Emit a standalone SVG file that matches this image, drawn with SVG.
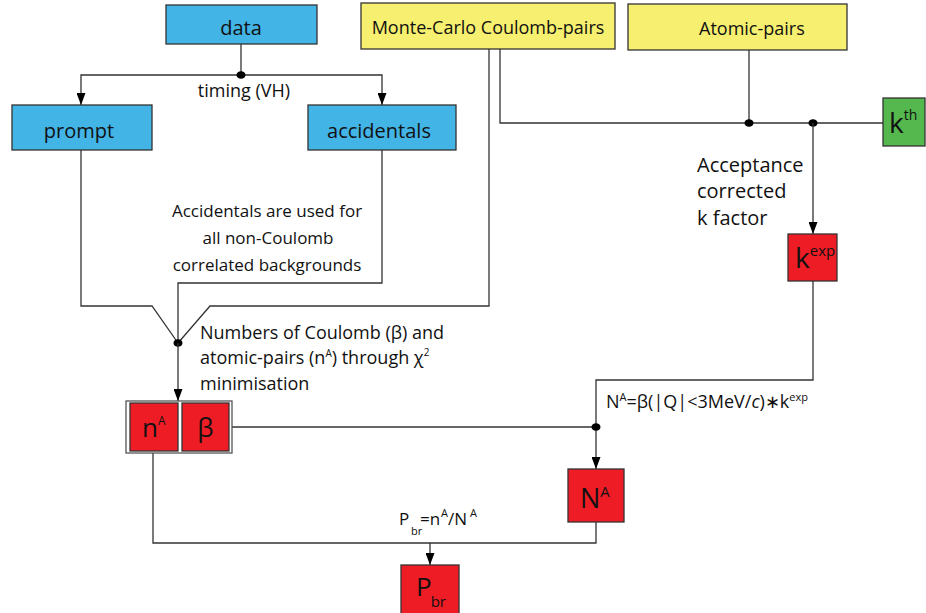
<svg xmlns="http://www.w3.org/2000/svg" width="926" height="613" viewBox="0 0 926 613">
<style>
text{font-family:"Open Sans","Liberation Sans",sans-serif;fill:#111}
.blue{fill:#42b4e6;stroke:#333;stroke-width:1.3}
.yellow{fill:#f6ef6f;stroke:#333;stroke-width:1.3}
.green{fill:#55b84e;stroke:#333;stroke-width:1.3}
.red{fill:#ee1c25;stroke:#333;stroke-width:1.3}
.ln{fill:none;stroke:#333;stroke-width:1.3}
.dot{fill:#000}
.lbl{font-size:20px}
.ann{font-size:18px}
</style>
<defs>
<marker id="arr" markerUnits="userSpaceOnUse" markerWidth="12" markerHeight="9" refX="12" refY="4.5" orient="auto">
<path d="M0,0 L12,4.5 L0,9 z" fill="#000"/>
</marker>
</defs>
<rect width="926" height="613" fill="#fff"/>
<g id="connectors">
<path class="ln" d="M241,44 V75"/>
<path class="ln" d="M241,75 H81 V105" marker-end="url(#arr)"/>
<path class="ln" d="M241,75 H382 V105" marker-end="url(#arr)"/>
<ellipse class="dot" cx="241" cy="75" rx="4.5" ry="3.8"/>
<path class="ln" d="M81,150 V306 H152 L178,343"/>
<path class="ln" d="M382,150 V283 H178 V343"/>
<path class="ln" d="M489,49 V306 H210 L178,343"/>
<ellipse class="dot" cx="178" cy="343" rx="4.5" ry="3.8"/>
<path class="ln" d="M178,343 V401" marker-end="url(#arr)"/>
<path class="ln" d="M500,49 V123 H883"/>
<path class="ln" d="M749,50 V123"/>
<ellipse class="dot" cx="749" cy="123" rx="4.5" ry="3.8"/>
<ellipse class="dot" cx="813" cy="123" rx="4.5" ry="3.8"/>
<path class="ln" d="M813,123 V234" marker-end="url(#arr)"/>
<path class="ln" d="M813,281 V380 H596 V469" marker-end="url(#arr)"/>
<path class="ln" d="M229,427 H596"/>
<ellipse class="dot" cx="596" cy="427" rx="4.5" ry="3.8"/>
<path class="ln" d="M153,451 V543 H596 V522"/>
<path class="ln" d="M430,543 V565" marker-end="url(#arr)"/>
</g>
<g id="labels">
<text class="ann" x="244" y="97" text-anchor="middle">timing (VH)</text>
<text font-size="17" text-anchor="middle"><tspan x="267" y="217">Accidentals are used for</tspan><tspan x="268" y="244">all non-Coulomb</tspan><tspan x="267" y="271">correlated backgrounds</tspan></text>
<text class="ann"><tspan x="200" y="339">Numbers of Coulomb (β) and</tspan><tspan x="200" y="364">atomic-pairs (n<tspan font-size="10" dy="-7">A</tspan><tspan dy="7">) through χ</tspan><tspan font-size="10" dy="-8">2</tspan></tspan><tspan x="200" y="390">minimisation</tspan></text>
<text font-size="20"><tspan x="697" y="172">Acceptance</tspan><tspan x="697" y="198">corrected</tspan><tspan x="697" y="225">k factor</tspan></text>
<text class="ann" x="606" y="408">N<tspan font-size="11" dy="-7">A</tspan><tspan dy="7">=β(|Q|&lt;3MeV/</tspan><tspan font-style="italic">c</tspan>)∗k<tspan font-size="11" dy="-7">exp</tspan></text>
<text font-size="17" y="525"><tspan x="399">P</tspan><tspan x="411" y="535" font-size="11">br</tspan><tspan x="420" y="525">=n</tspan><tspan x="441" y="517" font-size="11">A</tspan><tspan x="448" y="525">/N</tspan><tspan x="470" y="517" font-size="11">A</tspan></text>
</g>
<g id="data"><rect class="blue" x="166" y="5" width="151" height="39"/><text class="lbl" x="241" y="35" text-anchor="middle">data</text></g>
<g id="prompt"><rect class="blue" x="12" y="105" width="140" height="45"/><text class="lbl" x="79" y="138" text-anchor="middle">prompt</text></g>
<g id="accidentals"><rect class="blue" x="308" y="105" width="148" height="45"/><text class="lbl" x="379" y="138" text-anchor="middle">accidentals</text></g>
<g id="mc"><rect class="yellow" x="361" y="3" width="254" height="46"/><text class="ann" x="488" y="34" text-anchor="middle">Monte-Carlo Coulomb-pairs</text></g>
<g id="atomic"><rect class="yellow" x="628" y="4" width="219" height="46"/><text class="ann" x="699" y="35">Atomic-pairs</text></g>
<g id="kth"><rect class="green" x="883" y="98" width="42" height="48"/><text font-size="28" x="889" y="133">k<tspan font-size="14" dy="-13">th</tspan></text></g>
<g id="kexp"><rect class="red" x="788" y="234" width="49" height="47"/><text font-size="28" x="795" y="268">k<tspan font-size="15" dy="-12">exp</tspan></text></g>
<g id="fit">
<rect x="126" y="401" width="106" height="52" fill="#fff" stroke="#555" stroke-width="1.3"/>
<g id="nA"><rect class="red" x="130" y="403" width="48" height="48"/><text font-size="26" x="142" y="437">n<tspan font-size="12" dy="-12">A</tspan></text></g>
<g id="beta"><rect class="red" x="182" y="403" width="47" height="48"/><text font-size="26" x="205.5" y="437" text-anchor="middle">β</text></g>
</g>
<g id="NA"><rect class="red" x="568" y="469" width="56" height="53"/><text font-size="27" x="580" y="508">N<tspan font-size="15" dy="-11">A</tspan></text></g>
<g id="Pbr"><rect class="red" x="401" y="565" width="58" height="52"/><text font-size="26" x="416" y="596">P<tspan font-size="15" dx="-1" dy="11">br</tspan></text></g>
</svg>
